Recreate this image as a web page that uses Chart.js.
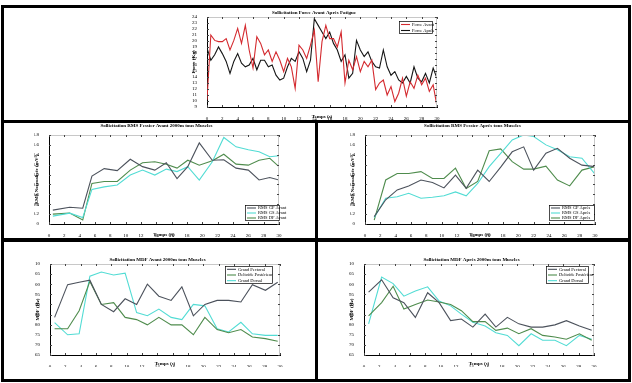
<!DOCTYPE html>
<html>
<head>
<meta charset="utf-8">
<script src="https://cdn.jsdelivr.net/npm/chart.js@4.4.1/dist/chart.umd.min.js"></script>
<style>
  body { margin: 0; background: #fff; width: 632px; height: 383px; position: relative; overflow: hidden; }
  #frame { position: absolute; left: 1px; top: 5px; width: 630px; height: 377px; background: #000; }
  .panel { position: absolute; background: #fff; }
  .panel canvas { position: absolute; left: 0; top: 0; }
</style>
</head>
<body>
<div id="frame"></div>
<div class="panel" style="left:4px;top:8px;width:624px;height:112px"><canvas id="forceChart" width="624" height="112"></canvas></div>
<div class="panel" style="left:4px;top:123px;width:311px;height:115px"><canvas id="rmsAvantChart" width="311" height="115"></canvas></div>
<div class="panel" style="left:318px;top:123px;width:310px;height:115px"><canvas id="rmsApresChart" width="310" height="115"></canvas></div>
<div class="panel" style="left:4px;top:242px;width:311px;height:137px"><canvas id="mdfAvantChart" width="311" height="137"></canvas></div>
<div class="panel" style="left:318px;top:242px;width:310px;height:137px"><canvas id="mdfApresChart" width="310" height="137"></canvas></div>

<script>
// ---- data ----
let forceTime = [0, 0.5, 1, 1.5, 2, 2.5, 3, 3.5, 4, 4.5, 5, 5.5, 6, 6.5, 7, 7.5, 8, 8.5, 9, 9.5,
  10, 10.5, 11, 11.5, 12, 12.5, 13, 13.5, 14, 14.5, 15, 15.5, 16, 16.5, 17, 17.5, 18, 18.5, 19, 19.5,
  20, 20.5, 21, 21.5, 22, 22.5, 23, 23.5, 24, 24.5, 25, 25.5, 26, 26.5, 27, 27.5, 28, 28.5, 29, 29.5, 30];
let forceAvant = [10.2, 21.0, 20.1, 19.9, 19.9, 20.4, 18.5, 20.1, 22.1, 19.6,
  22.6, 18.5, 15.5, 20.7, 19.6, 17.7, 18.5, 16.6, 18.2, 16.8,
  14.9, 17.1, 15.7, 12.1, 19.3, 18.5, 17.1, 19.3, 21.8, 13.2,
  19.9, 22.6, 20.4, 20.4, 19.0, 21.5, 13.0, 16.8, 15.2, 17.4,
  14.9, 16.6, 15.7, 16.8, 11.9, 13.0, 13.5, 11.0, 12.4, 9.9,
  11.3, 13.8, 10.8, 13.2, 12.1, 14.3, 12.7, 13.8, 11.6, 12.7, 9.1];
let forceApres = [18.8, 16.8, 17.7, 19.0, 17.9, 16.6, 14.6, 16.6, 17.9, 16.3,
  15.7, 16.0, 17.1, 15.2, 16.8, 16.8, 15.7, 16.0, 14.3, 13.5,
  13.8, 15.7, 17.1, 16.6, 18.2, 17.1, 14.9, 16.8, 23.7, 22.6,
  21.5, 20.4, 21.5, 19.6, 18.5, 16.6, 17.7, 13.8, 14.6, 20.1,
  18.5, 17.4, 18.2, 16.6, 15.7, 15.5, 18.5, 15.7, 14.3, 14.9,
  13.5, 13.0, 14.1, 13.0, 15.7, 13.8, 13.2, 14.6, 13.0, 15.5, 13.8];

let rmsTimeAvant = [0.5, 2.7, 4.4, 5.6, 7.2, 8.9, 10.6, 12.2, 13.8, 15.3, 16.7, 18.1, 19.6, 21.3, 22.8, 24.4, 26.0, 27.4, 28.8, 30];
let rmsGPAvant = [0.28, 0.34, 0.32, 0.97, 1.12, 1.08, 1.31, 1.16, 1.09, 1.24, 0.92, 1.16, 1.64, 1.29, 1.30, 1.13, 1.09, 0.89, 0.94, 0.89];
let rmsGSAvant = [0.16, 0.22, 0.13, 0.70, 0.75, 0.79, 0.99, 1.09, 0.99, 1.11, 1.06, 1.16, 0.89, 1.26, 1.75, 1.56, 1.50, 1.46, 1.36, 1.38];
let rmsDFAvant = [0.20, 0.22, 0.08, 0.82, 0.86, 0.86, 1.09, 1.24, 1.26, 1.21, 1.13, 1.29, 1.19, 1.28, 1.41, 1.21, 1.19, 1.29, 1.33, 1.16];

let rmsTimeApres = [1.2, 2.7, 4.2, 5.7, 7.3, 8.8, 10.3, 11.8, 13.2, 14.7, 16.2, 17.7, 19.2, 20.7, 22.0, 23.6, 25.1, 26.7, 28.3, 30];
let rmsGPApres = [0.15, 0.49, 0.69, 0.77, 0.89, 0.84, 0.73, 0.99, 0.72, 1.09, 0.86, 1.15, 1.46, 1.56, 1.09, 1.43, 1.53, 1.33, 1.19, 1.16];
let rmsGSApres = [0.13, 0.52, 0.55, 0.62, 0.52, 0.54, 0.57, 0.65, 0.57, 0.82, 1.16, 1.43, 1.70, 1.80, 1.77, 1.60, 1.50, 1.36, 1.33, 1.01];
let rmsDFApres = [0.08, 0.89, 1.02, 1.02, 1.06, 0.92, 0.92, 1.13, 0.72, 0.86, 1.48, 1.52, 1.26, 1.11, 1.11, 1.17, 0.89, 0.77, 1.09, 1.16];

let mdfTime = [0.6, 2.3, 3.8, 5.2, 6.7, 8.3, 9.8, 11.3, 12.7, 14.2, 15.8, 17.2, 18.7, 20.2, 21.8, 23.3, 24.9, 26.4, 28.1, 29.7];
let pectoralAvant = [83.6, 99.8, 101, 102, 90, 86.4, 92.8, 90, 100, 94.1, 92, 98.7, 84.4, 90, 92, 92, 91.2, 99.8, 97, 101];
let deltoideAvant = [78, 78, 86.9, 101.4, 90, 90.9, 83.6, 82.5, 79.9, 83.6, 79.9, 79.9, 75, 83.6, 77.6, 76, 77.6, 73.9, 73.1, 71.8];
let dorsalAvant = [81, 75, 75.5, 104, 106, 104.6, 105.5, 86, 84.4, 87.7, 83.6, 82.5, 90, 89.3, 78, 76.4, 81.2, 75.5, 74.7, 74.7];
let pectoralApres = [96.1, 102.2, 93.3, 90.9, 83.6, 95.8, 90.9, 82.0, 82.8, 78.8, 85.2, 78.8, 83.6, 80.4, 78.8, 78.8, 79.9, 82.0, 79.3, 77.2];
let deltoideApres = [84.4, 90.9, 99, 87.7, 90, 92.2, 91.2, 90, 86.9, 81.5, 81.5, 77.2, 78.3, 75.5, 78, 74.7, 73.9, 72.8, 75.5, 72.3];
let dorsalApres = [80.4, 103.5, 100.3, 94.1, 96.6, 98.7, 91.7, 89.3, 85.2, 81.2, 79.3, 76, 74.7, 69.6, 75.5, 72.3, 72.3, 69.6, 74.7, 72.8];

// ---- look ----
const SERIF = "'Liberation Serif', 'DejaVu Serif', serif";
const RED = '#d42a2f', BLACK = '#151515';
const GREY = '#4c525c', CYAN = '#52dcd4', GREEN = '#4f8c4d';

function pts(xs, ys) {
  let out = [];
  for (let i = 0; i < xs.length; i++) out.push({ x: xs[i], y: ys[i] });
  return out;
}

function line(label, xs, ys, color) {
  return { label: label, data: pts(xs, ys), borderColor: color, backgroundColor: color,
    borderWidth: 1.1, pointRadius: 0, tension: 0, fill: false };
}

// matlab style box: light top/right edges + inward ticks on all sides
const boxTicks = {
  id: 'boxTicks',
  afterDatasetsDraw(chart) {
    const ctx = chart.ctx, a = chart.chartArea;
    const xs = chart.scales.x, ys = chart.scales.y;
    ctx.save();
    ctx.strokeStyle = '#c8c8c8';
    ctx.lineWidth = 1;
    ctx.beginPath();
    ctx.moveTo(a.left, a.top + 0.5); ctx.lineTo(a.right, a.top + 0.5);
    ctx.moveTo(a.right - 0.5, a.top); ctx.lineTo(a.right - 0.5, a.bottom);
    ctx.stroke();
    ctx.strokeStyle = '#444';
    ctx.beginPath();
    xs.ticks.forEach(t => {
      let px = Math.round(xs.getPixelForValue(t.value)) + 0.5;
      ctx.moveTo(px, a.bottom); ctx.lineTo(px, a.bottom - 2);
      ctx.moveTo(px, a.top); ctx.lineTo(px, a.top + 2);
    });
    ys.ticks.forEach(t => {
      let py = Math.round(ys.getPixelForValue(t.value)) + 0.5;
      ctx.moveTo(a.left, py); ctx.lineTo(a.left + 2, py);
      ctx.moveTo(a.right, py); ctx.lineTo(a.right - 2, py);
    });
    ctx.stroke();
    ctx.restore();
  }
};

// boxed legend drawn inside the plot
const boxLegend = {
  id: 'boxLegend',
  afterDraw(chart, args, opts) {
    if (!opts || opts.w === undefined) return;
    const ctx = chart.ctx;
    const ds = chart.data.datasets;
    ctx.save();
    ctx.fillStyle = '#fff';
    ctx.fillRect(opts.x, opts.y, opts.w, opts.h);
    ctx.strokeStyle = '#000';
    ctx.lineWidth = 0.7;
    ctx.strokeRect(opts.x + 0.5, opts.y + 0.5, opts.w, opts.h);
    ctx.font = '4.5px ' + SERIF;
    ctx.textBaseline = 'middle';
    let rowH = opts.h / ds.length;
    for (let i = 0; i < ds.length; i++) {
      let cy = opts.y + rowH * (i + 0.5) + 0.5;
      ctx.strokeStyle = ds[i].borderColor;
      ctx.lineWidth = 1.1;
      ctx.beginPath();
      ctx.moveTo(opts.x + 2, cy); ctx.lineTo(opts.x + 11, cy);
      ctx.stroke();
      ctx.fillStyle = '#000';
      ctx.fillText(ds[i].label, opts.x + 13, cy);
    }
    ctx.restore();
  }
};

function makeChart(id, cfg) {
  return new Chart(document.getElementById(id), {
    type: 'line',
    data: { datasets: cfg.datasets },
    plugins: [boxTicks, boxLegend],
    options: {
      responsive: false,
      animation: false,
      devicePixelRatio: 1,
      layout: { padding: cfg.padding },
      plugins: {
        legend: { display: false },
        tooltip: { enabled: false },
        title: { display: true, text: cfg.title, color: '#000',
          font: { family: SERIF, size: 5, weight: 'bold' }, padding: cfg.titlePad },
        boxLegend: cfg.legend
      },
      scales: {
        x: {
          type: 'linear', min: 0, max: 30,
          ticks: { stepSize: 2, color: '#000', font: { family: SERIF, size: 5 }, padding: 1, maxRotation: 0, autoSkip: false },
          grid: { display: false },
          border: { color: '#000', width: 1 },
          title: { display: true, text: cfg.xTitle, color: '#000', font: { family: SERIF, size: 5, weight: 'bold' }, padding: 0 },
          afterFit: s => { s.height = cfg.xH; }
        },
        y: {
          min: cfg.yMin, max: cfg.yMax,
          ticks: { stepSize: cfg.yStep, color: '#000', font: { family: SERIF, size: 5 }, padding: 2, autoSkip: false },
          grid: { display: false },
          border: { color: '#000', width: 1 },
          title: { display: true, text: cfg.yTitle, color: '#000', font: { family: SERIF, size: 5, weight: 'bold' }, padding: 0 },
          afterFit: s => { s.width = cfg.yW; }
        }
      }
    }
  });
}

makeChart('forceChart', {
  title: 'Sollicitation Force Avant Après Fatigue',
  titlePad: { top: 2, bottom: 1 },
  padding: { left: 187, right: 191, top: 0, bottom: 0 },
  xTitle: 'Temps (s)', yTitle: 'Force (Kg)',
  xH: 13, yW: 16, yMin: 9, yMax: 24, yStep: 1,
  legend: { x: 395, y: 13, w: 33, h: 12 },
  datasets: [
    line('Force Avant', forceTime, forceAvant, RED),
    line('Force Après', forceTime, forceApres, BLACK)
  ]
});

makeChart('rmsAvantChart', {
  title: 'Sollicitation RMS Fessier Avant 2000m tous Muscles',
  titlePad: { top: 0, bottom: 6 },
  padding: { left: 30, right: 36, top: 0, bottom: 0 },
  xTitle: 'Temps (S)', yTitle: 'RMS Normalisée (mV²)',
  xH: 14, yW: 15, yMin: 0, yMax: 1.8, yStep: 0.2,
  legend: { x: 241, y: 82, w: 34, h: 15 },
  datasets: [
    line('RMS GP Avant', rmsTimeAvant, rmsGPAvant, GREY),
    line('RMS GS Avant', rmsTimeAvant, rmsGSAvant, CYAN),
    line('RMS DF Avant', rmsTimeAvant, rmsDFAvant, GREEN)
  ]
});

makeChart('rmsApresChart', {
  title: 'Sollicitation RMS Fessier Après tous Muscles',
  titlePad: { top: 0, bottom: 6 },
  padding: { left: 32, right: 33, top: 0, bottom: 0 },
  xTitle: 'Temps (S)', yTitle: 'RMS Normalisée (mV²)',
  xH: 14, yW: 15, yMin: 0, yMax: 1.8, yStep: 0.2,
  legend: { x: 231, y: 82, w: 45, h: 15 },
  datasets: [
    line('RMS GP Après', rmsTimeApres, rmsGPApres, GREY),
    line('RMS GS Après', rmsTimeApres, rmsGSApres, CYAN),
    line('RMS DF Après', rmsTimeApres, rmsDFApres, GREEN)
  ]
});

makeChart('mdfAvantChart', {
  title: 'Sollicitation MDF Avant 2000m tous Muscles',
  titlePad: { top: 15, bottom: 1 },
  padding: { left: 31, right: 35, top: 0, bottom: 12 },
  xTitle: 'Temps (s)', yTitle: 'MDF (Hz)',
  xH: 12, yW: 15, yMin: 65, yMax: 110, yStep: 5,
  legend: { x: 221, y: 24, w: 47, h: 17 },
  datasets: [
    line('Grand Pectoral', mdfTime, pectoralAvant, GREY),
    line('Deltoïde Postérieur', mdfTime, deltoideAvant, GREEN),
    line('Grand Dorsal', mdfTime, dorsalAvant, CYAN)
  ]
});

makeChart('mdfApresChart', {
  title: 'Sollicitation MDF Après 2000m tous Muscles',
  titlePad: { top: 15, bottom: 1 },
  padding: { left: 31, right: 34, top: 0, bottom: 12 },
  xTitle: 'Temps (s)', yTitle: 'MDF (Hz)',
  xH: 12, yW: 15, yMin: 65, yMax: 110, yStep: 5,
  legend: { x: 228, y: 24, w: 42, h: 17 },
  datasets: [
    line('Grand Pectoral', mdfTime, pectoralApres, GREY),
    line('Deltoïde Postérieur', mdfTime, deltoideApres, GREEN),
    line('Grand Dorsal', mdfTime, dorsalApres, CYAN)
  ]
});
</script>
</body>
</html>
